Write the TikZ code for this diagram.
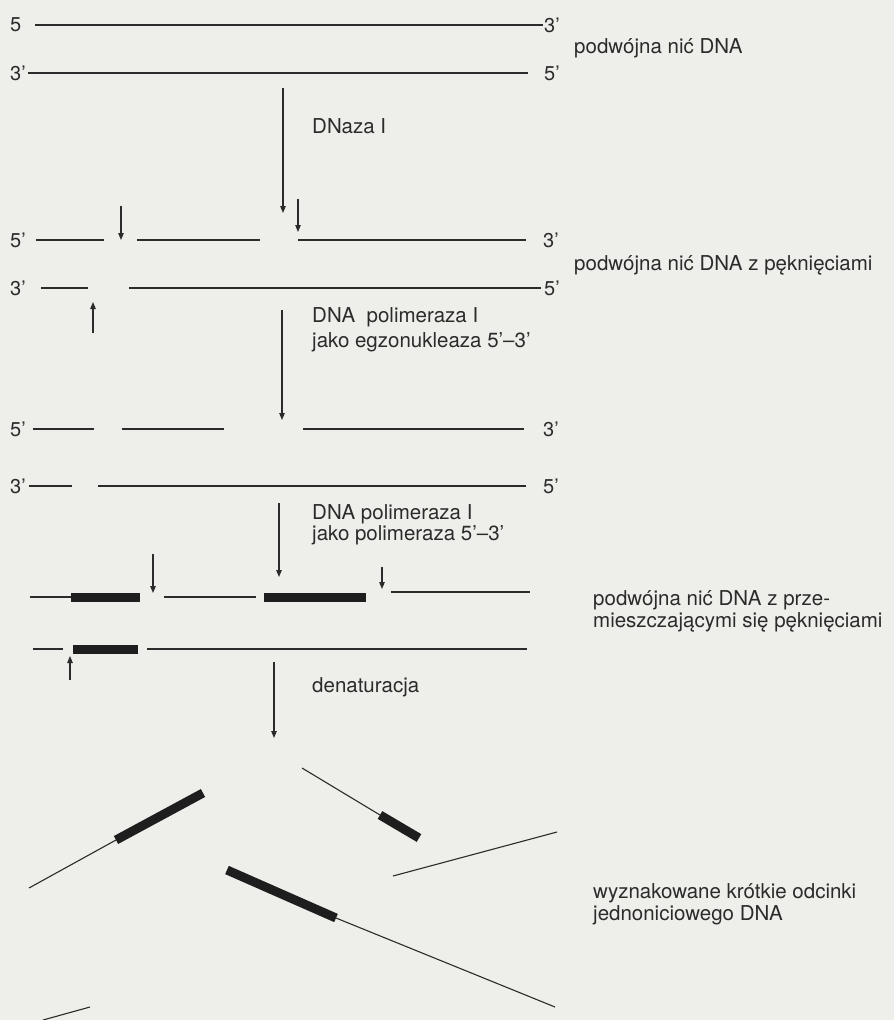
\documentclass[tikz,border=0pt]{standalone}
\usepackage{fontspec}
\setmainfont{TeX Gyre Heros}
\usetikzlibrary{arrows.meta}
\definecolor{paper}{HTML}{EEEEEA}
\definecolor{ink}{HTML}{2B2B2B}
\definecolor{bar}{HTML}{1E1E1E}
\begin{document}
\begin{tikzpicture}[x=1pt,y=-1pt,
  strand/.style={ink, line width=1.1pt},
  probe/.style={bar, line width=9pt},
  cut/.style={ink, line width=1.1pt, -{Triangle[length=7pt,width=5.5pt]}},
  endlbl/.style={inner sep=0pt, text=ink, font=\fontsize{20}{24}\selectfont},
  lbl/.style={inner sep=0pt, anchor=base west, text=ink, font=\fontsize{20.5}{24}\selectfont}]

\fill[paper] (0,0) rectangle (894,1020);
\useasboundingbox (0,0) rectangle (894,1020);

% ---- intact double strand
\node[endlbl, anchor=west] (e1l) at (10,25) {5};
\node[endlbl, anchor=west] (e1r) at (544,25) {3’};
\node[endlbl, anchor=west] (e2l) at (10,73) {3’};
\node[endlbl, anchor=west] (e2r) at (544,73) {5’};
\draw[strand] (35,25) -- (543,25);
\draw[strand] (28,73) -- (528,73);
\node[lbl] (t1) at (574,53) {podwójna nić DNA};

% ---- DNase I step
\coordinate (s1a) at (283,88);  \coordinate (s1b) at (283,213);
\draw[cut] (s1a) -- (s1b);
\node[lbl] (k1) at (312,133) {DNaza I};

% ---- nicked double strand
\node[endlbl, anchor=west] (e3l) at (10,240) {5’};
\node[endlbl, anchor=west] (e3r) at (543,240) {3’};
\node[endlbl, anchor=west] (e4l) at (10,288) {3’};
\node[endlbl, anchor=west] (e4r) at (544,288) {5’};
\draw[strand] (36,240) -- (104,240);
\draw[strand] (137,240) -- (260,240);
\draw[strand] (298,240) -- (526,240);
\draw[strand] (41,288) -- (88,288);
\draw[strand] (129,288) -- (541,288);
\coordinate (n1a) at (121,206); \coordinate (n1b) at (121,240);
\coordinate (n2a) at (298,199); \coordinate (n2b) at (298,232);
\coordinate (n3a) at (93,333);  \coordinate (n3b) at (93,302);
\draw[cut] (n1a) -- (n1b);
\draw[cut] (n2a) -- (n2b);
\draw[cut] (n3a) -- (n3b);
\node[lbl] (t2) at (574,270) {podwójna nić DNA z pęknięciami};

% ---- 5'-3' exonuclease step
\coordinate (s2a) at (282,310); \coordinate (s2b) at (282,420);
\draw[cut] (s2a) -- (s2b);
\node[lbl] (k2a) at (312,322) {DNA~~polimeraza I};
\node[lbl] (k2b) at (312,347) {jako egzonukleaza 5’–3’};

% ---- gapped double strand
\node[endlbl, anchor=west] (e5l) at (10,429) {5’};
\node[endlbl, anchor=west] (e5r) at (543,429) {3’};
\node[endlbl, anchor=west] (e6l) at (10,486) {3’};
\node[endlbl, anchor=west] (e6r) at (543,486) {5’};
\draw[strand] (33,429) -- (94,429);
\draw[strand] (122,429) -- (224,429);
\draw[strand] (303,429) -- (524,429);
\draw[strand] (29,486) -- (72,486);
\draw[strand] (98,486) -- (526,486);

% ---- 5'-3' polymerase step
\coordinate (s3a) at (279,503); \coordinate (s3b) at (279,577);
\draw[cut] (s3a) -- (s3b);
\node[lbl] (k3a) at (312,519) {DNA polimeraza I};
\node[lbl] (k3b) at (312,540) {jako polimeraza 5’–3’};

% ---- nick translation with labelled stretches
\draw[strand] (30,597) -- (71,597);
\draw[probe] (71,597) -- (140,597);
\draw[strand] (164,597) -- (256,597);
\draw[probe] (264,597) -- (366,597);
\draw[strand] (391,592) -- (530,592);
\draw[strand] (33,649) -- (63,649);
\draw[probe] (73,649) -- (138,649);
\draw[strand] (147,649) -- (527,649);
\coordinate (n4a) at (153,554); \coordinate (n4b) at (153,593);
\coordinate (n5a) at (382,567); \coordinate (n5b) at (382,589);
\coordinate (n6a) at (70,680);  \coordinate (n6b) at (70,656);
\draw[cut] (n4a) -- (n4b);
\draw[cut] (n5a) -- (n5b);
\draw[cut] (n6a) -- (n6b);
\node[lbl] (t3a) at (593,605) {podwójna nić DNA z prze-};
\node[lbl] (t3b) at (593,627) {mieszczającymi się pęknięciami};

% ---- denaturation step
\coordinate (s4a) at (274,662); \coordinate (s4b) at (274,738);
\draw[cut] (s4a) -- (s4b);
\node[lbl] (k4) at (312,692) {denaturacja};

% ---- single-stranded fragments
\draw[strand] (29,888) -- (116,840);
\draw[probe] (116,840) -- (203,793);
\draw[strand] (302,768) -- (380,815);
\draw[probe] (380,815) -- (419,838);
\draw[strand] (393,876) -- (557,832);
\draw[probe] (227,870) -- (336,918);
\draw[strand] (336,918) -- (555,1007);
\draw[strand] (43,1020) -- (90,1007);
\node[lbl] (t4a) at (593,898) {wyznakowane krótkie odcinki};
\node[lbl] (t4b) at (593,920) {jednoniciowego DNA};
\end{tikzpicture}
\end{document}
